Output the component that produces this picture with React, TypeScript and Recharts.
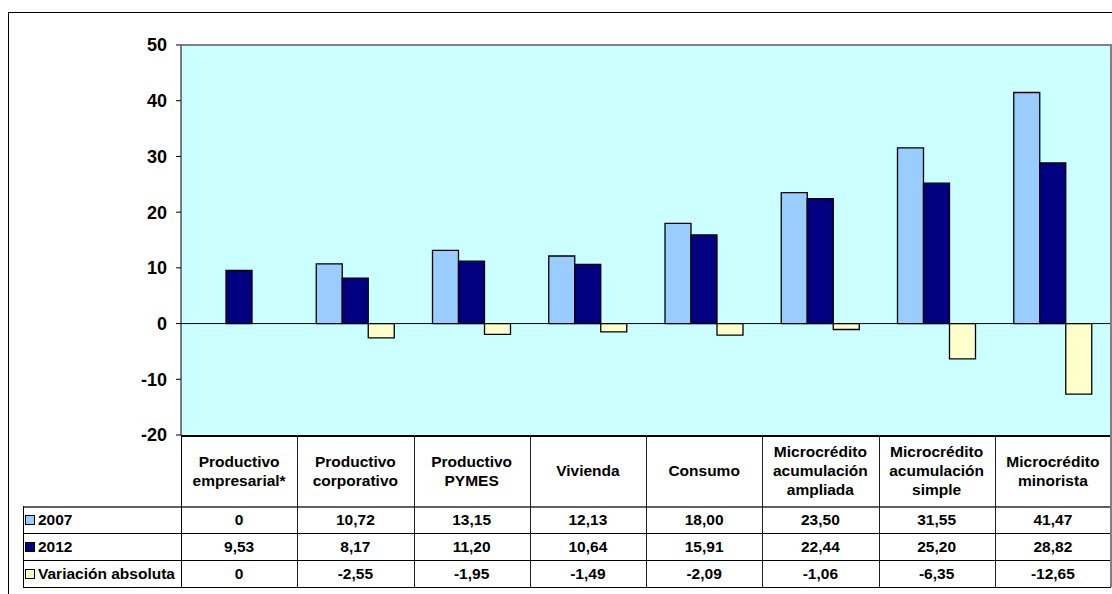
import { Bar, BarChart, CartesianGrid, ReferenceLine, XAxis, YAxis } from 'recharts';

const categoryLines = [
  ['Productivo', 'empresarial*'],
  ['Productivo', 'corporativo'],
  ['Productivo', 'PYMES'],
  ['Vivienda'],
  ['Consumo'],
  ['Microcrédito', 'acumulación', 'ampliada'],
  ['Microcrédito', 'acumulación', 'simple'],
  ['Microcrédito', 'minorista'],
];
const values2007 = [0, 10.72, 13.15, 12.13, 18.0, 23.5, 31.55, 41.47];
const values2012 = [9.53, 8.17, 11.2, 10.64, 15.91, 22.44, 25.2, 28.82];
const variation = [0, -2.55, -1.95, -1.49, -2.09, -1.06, -6.35, -12.65];
const yTicks = [-20, -10, 0, 10, 20, 30, 40, 50];

const series = [
  { key: 'v2007', label: '2007', values: values2007, color: '#99CCFF' },
  { key: 'v2012', label: '2012', values: values2012, color: '#000080' },
  { key: 'variacion', label: 'Variación absoluta', values: variation, color: '#FFFFCC' },
];

const chartData = categoryLines.map((lines, i) => ({
  name: lines.join(' '),
  v2007: values2007[i],
  v2012: values2012[i],
  variacion: variation[i],
}));

const fmt = (v: number) => (v === 0 ? '0' : v.toFixed(2).replace('.', ','));

const font = '"Liberation Sans", Arial, sans-serif';
const plotLeft = 181;
const plotRight = 1111;
const plotTop = 45;
const plotBottom = 435;
const headerBottom = 506;
const rowH = 27;
const tableLeft = 23;
const colW = (plotRight - plotLeft) / categoryLines.length;

const line = (x: number, y: number, w: number, h: number, color: string): React.CSSProperties => ({
  position: 'absolute',
  left: x,
  top: y,
  width: w,
  height: h,
  backgroundColor: color,
});

export default function App() {
  return (
    <div
      style={{
        position: 'absolute',
        left: 0,
        top: 0,
        width: 1112,
        height: 594,
        overflow: 'hidden',
        background: '#FFFFFF',
        fontFamily: font,
        fontWeight: 700,
        color: '#000',
      }}
    >
      <div style={{ position: 'absolute', left: 8, top: 12, width: 1140, height: 620, border: '1px solid #000' }} />

      <div style={{ position: 'absolute', left: 0, top: 0 }}>
        <BarChart
          width={1112}
          height={594}
          data={chartData}
          margin={{ top: plotTop, right: 1112 - plotRight, bottom: 594 - plotBottom, left: plotLeft - 60 }}
          barGap={0}
          barSize={26}
        >
          <CartesianGrid fill="#CCFFFF" horizontal={false} vertical={false} stroke="none" />
          <XAxis dataKey="name" hide />
          <YAxis
            domain={[-20, 50]}
            ticks={yTicks}
            interval={0}
            width={60}
            tickSize={5}
            tickMargin={9}
            axisLine={{ stroke: '#000' }}
            tickLine={{ stroke: '#000' }}
            tick={{ fill: '#000', fontSize: 18, fontWeight: 700, fontFamily: font }}
          />
          <ReferenceLine y={0} stroke="#000" />
          {series.map((s) => (
            <Bar key={s.key} dataKey={s.key} fill={s.color} stroke="#000" strokeWidth={1.3} isAnimationActive={false} />
          ))}
        </BarChart>
      </div>

      {/* plot frame */}
      <div style={line(plotLeft, plotTop - 1, plotRight - plotLeft + 1, 2, '#808080')} />
      <div style={line(plotRight - 1, plotTop, 2, plotBottom - plotTop, '#808080')} />

      {/* data table: header */}
      {categoryLines.map((lines, i) => (
        <div
          key={i}
          style={{
            position: 'absolute',
            left: plotLeft + i * colW,
            top: plotBottom,
            width: colW,
            height: headerBottom - plotBottom,
            display: 'flex',
            flexDirection: 'column',
            justifyContent: 'center',
            alignItems: 'center',
            fontSize: 15.5,
            lineHeight: '19px',
            textAlign: 'center',
          }}
        >
          {lines.map((t) => (
            <div key={t}>{t}</div>
          ))}
        </div>
      ))}

      {/* data table: rows */}
      {series.map((s, r) => (
        <div key={s.key}>
          <div
            style={{
              position: 'absolute',
              left: tableLeft + 2,
              top: headerBottom + r * rowH,
              height: rowH,
              display: 'flex',
              alignItems: 'center',
              fontSize: 15.5,
            }}
          >
            <span
              style={{
                display: 'inline-block',
                width: 8,
                height: 8,
                border: '1px solid #000',
                backgroundColor: s.color,
                marginRight: 3,
              }}
            />
            {s.label}
          </div>
          {s.values.map((v, i) => (
            <div
              key={i}
              style={{
                position: 'absolute',
                left: plotLeft + i * colW,
                top: headerBottom + r * rowH,
                width: colW,
                height: rowH,
                display: 'flex',
                alignItems: 'center',
                justifyContent: 'center',
                fontSize: 15.5,
              }}
            >
              {fmt(v)}
            </div>
          ))}
        </div>
      ))}

      {/* table grid */}
      <div style={line(plotLeft, plotBottom, plotRight - plotLeft, 1.5, '#000')} />
      <div style={line(tableLeft, headerBottom, plotRight - tableLeft, 1.5, '#606060')} />
      {[1, 2, 3].map((r) => (
        <div key={r} style={line(tableLeft, headerBottom + r * rowH, plotRight - tableLeft, 1.2, '#000')} />
      ))}
      <div style={line(tableLeft, headerBottom, 1.2, 3 * rowH, '#000')} />
      {categoryLines.map((_, i) => (
        <div
          key={i}
          style={line(plotLeft + i * colW, plotBottom, 1.2, headerBottom + 3 * rowH - plotBottom, i === 0 ? '#000' : '#202020')}
        />
      ))}
      <div style={line(plotRight - 1, plotBottom, 1.5, headerBottom + 3 * rowH - plotBottom, '#808080')} />
    </div>
  );
}
